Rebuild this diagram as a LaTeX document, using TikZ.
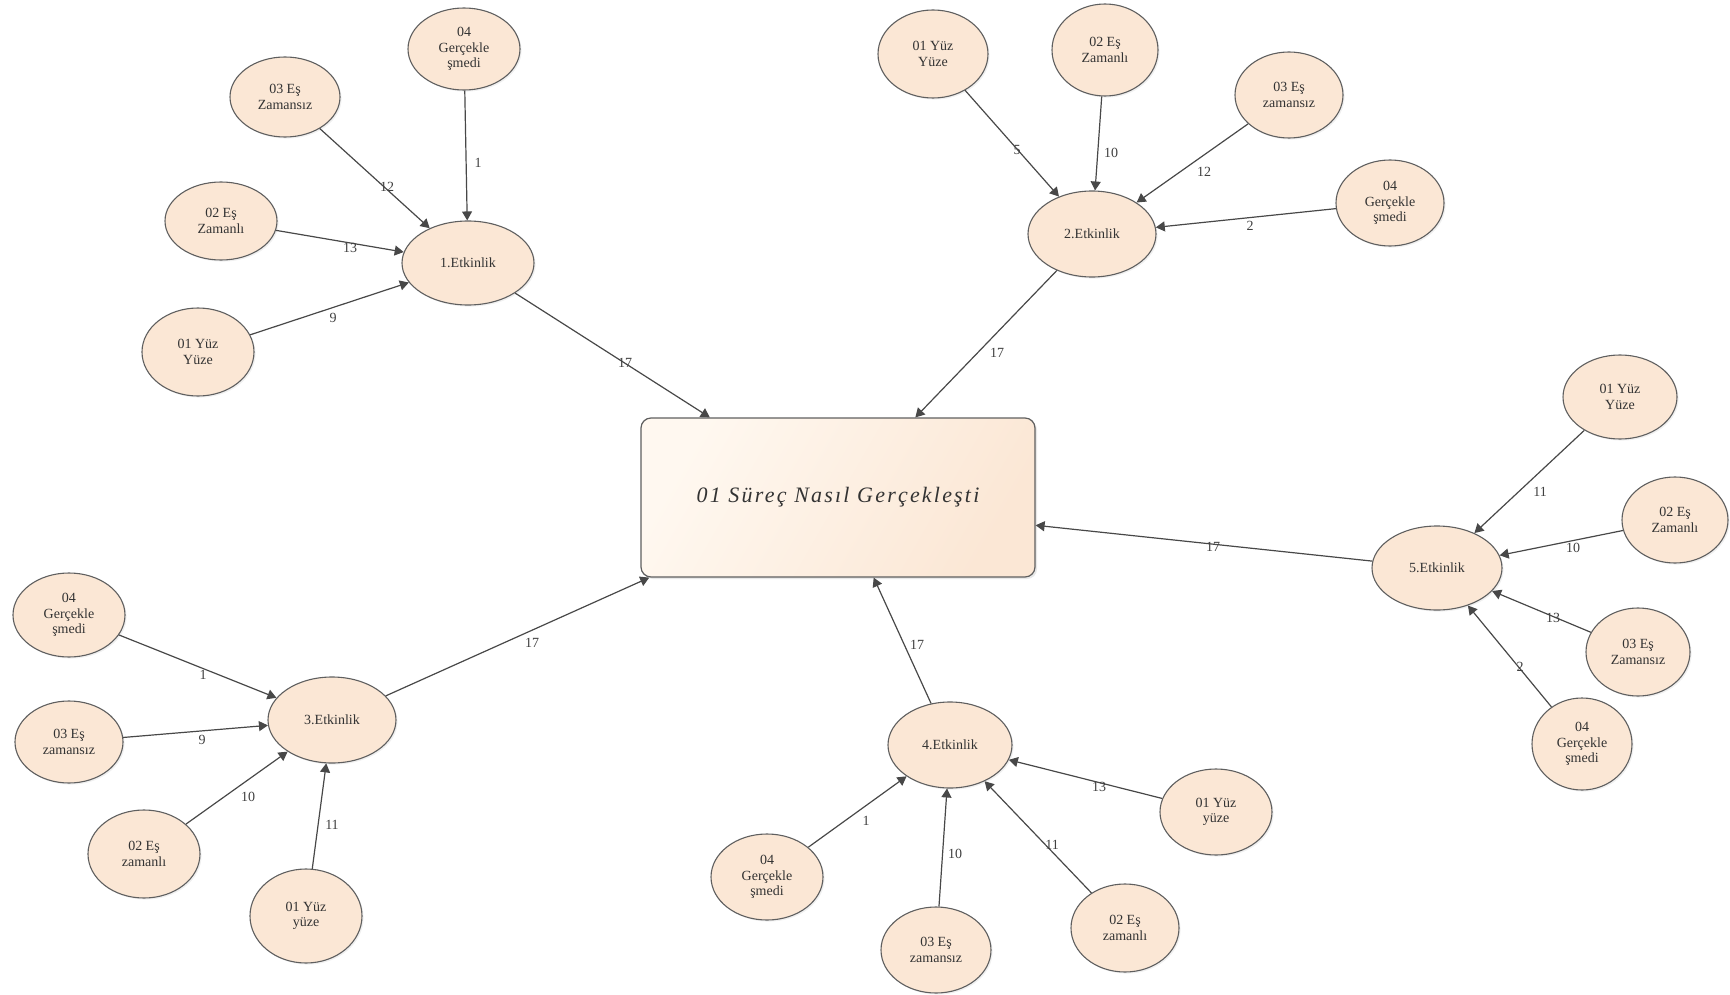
\documentclass[tikz,border=0pt]{standalone}
\usepackage{fontspec}
\setmainfont{Liberation Serif}
\usetikzlibrary{arrows.meta,shapes.geometric,shadows}

\definecolor{peach}{RGB}{251,231,213}
\definecolor{peachlight}{RGB}{255,248,240}
\definecolor{edgegray}{RGB}{72,72,72}
\definecolor{rimgray}{RGB}{95,95,95}

\tikzset{
  sz/.style 2 args={minimum width=#1*0.5pt, minimum height=#2*0.5pt},
  leaf/.style={ellipse, draw=rimgray, line width=0.55pt, fill=peach,
    inner sep=0pt, align=center, text=black!80,
    font=\fontsize{7}{7.8}\selectfont,
    drop shadow={opacity=0.12, shadow xshift=0.8pt, shadow yshift=-0.8pt}},
  act/.style={leaf},
  mainbox/.style={rectangle, rounded corners=5pt, draw=rimgray, line width=0.6pt,
    left color=peachlight, right color=peach, shading angle=60,
    minimum width=197pt, minimum height=79.5pt, text=black!80,
    font=\fontsize{11}{13}\selectfont\itshape\addfontfeatures{LetterSpace=10},
    drop shadow={opacity=0.18, shadow xshift=1pt, shadow yshift=-1pt}},
  link/.style={-{Triangle[length=4.5pt,width=5pt]}, draw=edgegray, line width=0.6pt},
  num/.style={font=\fontsize{7}{8}\selectfont, text=black!75, inner sep=0.5pt}
}

\begin{document}
\begin{tikzpicture}[x=0.5pt, y=-0.5pt]
\useasboundingbox (0,0) rectangle (1730,995);

% central process box
\node[mainbox] (box) at (838,497.5) {01 Süreç Nasıl Gerçekleşti};

% activity 1 and its modes
\node[act, sz={132}{84}] (e1) at (468,263) {1.Etkinlik};
\node[leaf, sz={112}{82}] (e1d) at (464,49) {04\\Gerçekle\\şmedi};
\node[leaf, sz={110}{80}] (e1c) at (285,97) {03 Eş\\Zamansız};
\node[leaf, sz={112}{78}] (e1b) at (221,221) {02 Eş\\Zamanlı};
\node[leaf, sz={112}{88}] (e1a) at (198,352) {01 Yüz\\Yüze};

% activity 2 and its modes
\node[act, sz={128}{86}] (e2) at (1092,234) {2.Etkinlik};
\node[leaf, sz={110}{88}] (e2a) at (933,54) {01 Yüz\\Yüze};
\node[leaf, sz={106}{92}] (e2b) at (1105,50) {02 Eş\\Zamanlı};
\node[leaf, sz={108}{86}] (e2c) at (1289,95) {03 Eş\\zamansız};
\node[leaf, sz={108}{86}] (e2d) at (1390,203) {04\\Gerçekle\\şmedi};

% activity 5 and its modes
\node[act, sz={130}{84}] (e5) at (1437,568) {5.Etkinlik};
\node[leaf, sz={114}{84}] (e5a) at (1620,397) {01 Yüz\\Yüze};
\node[leaf, sz={106}{86}] (e5b) at (1675,520) {02 Eş\\Zamanlı};
\node[leaf, sz={104}{88}] (e5c) at (1638,652) {03 Eş\\Zamansız};
\node[leaf, sz={100}{92}] (e5d) at (1582,744) {04\\Gerçekle\\şmedi};

% activity 3 and its modes
\node[act, sz={128}{86}] (e3) at (332,720) {3.Etkinlik};
\node[leaf, sz={112}{84}] (e3d) at (69,615) {04\\Gerçekle\\şmedi};
\node[leaf, sz={108}{82}] (e3c) at (69,742) {03 Eş\\zamansız};
\node[leaf, sz={112}{88}] (e3b) at (144,854) {02 Eş\\zamanlı};
\node[leaf, sz={112}{94}] (e3a) at (306,916) {01 Yüz\\yüze};

% activity 4 and its modes
\node[act, sz={124}{86}] (e4) at (950,745) {4.Etkinlik};
\node[leaf, sz={112}{86}] (e4a) at (1216,812) {01 Yüz\\yüze};
\node[leaf, sz={108}{88}] (e4b) at (1125,928) {02 Eş\\zamanlı};
\node[leaf, sz={110}{86}] (e4c) at (936,950) {03 Eş\\zamansız};
\node[leaf, sz={112}{86}] (e4d) at (767,877) {04\\Gerçekle\\şmedi};

% connectors: modes -> activities
\draw[link] (e1d) -- (e1);
\draw[link] (e1c) -- (e1);
\draw[link] (e1b) -- (e1);
\draw[link] (e1a) -- (e1);

\draw[link] (e2a) -- (e2);
\draw[link] (e2b) -- (e2);
\draw[link] (e2c) -- (e2);
\draw[link] (e2d) -- (e2);

\draw[link] (e5a) -- (e5);
\draw[link] (e5b) -- (e5);
\draw[link] (e5c) -- (e5);
\draw[link] (e5d) -- (e5);

\draw[link] (e3d) -- (e3);
\draw[link] (e3c) -- (e3);
\draw[link] (e3b) -- (e3);
\draw[link] (e3a) -- (e3);

\draw[link] (e4d) -- (e4);
\draw[link] (e4c) -- (e4);
\draw[link] (e4b) -- (e4);
\draw[link] (e4a) -- (e4);

% connectors: activities -> process box
\draw[link] (e1) -- (box.148);
\draw[link] (e2) -- (box.46.5);
\draw[link] (e5) -- (box.352.8);
\draw[link] (e3) -- (box.203.2);
\draw[link] (e4) -- (box.294.8);

% connector weights
\node[num] (w1d) at (478,163) {1};
\node[num] (w1c) at (387,187) {12};
\node[num] (w1b) at (350,248) {13};
\node[num] (w1a) at (333,318) {9};
\node[num] (w1) at (625,363) {17};

\node[num] (w2a) at (1017,150) {5};
\node[num] (w2b) at (1111,153) {10};
\node[num] (w2c) at (1204,172) {12};
\node[num] (w2d) at (1250,226) {2};
\node[num] (w2) at (997,353) {17};

\node[num] (w5a) at (1540,492) {11};
\node[num] (w5b) at (1573,548) {10};
\node[num] (w5c) at (1553,618) {13};
\node[num] (w5d) at (1520,667) {2};
\node[num] (w5) at (1213,547) {17};

\node[num] (w3d) at (203,675) {1};
\node[num] (w3c) at (202,740) {9};
\node[num] (w3b) at (248,797) {10};
\node[num] (w3a) at (332,825) {11};
\node[num] (w3) at (532,643) {17};

\node[num] (w4d) at (866,821) {1};
\node[num] (w4c) at (955,854) {10};
\node[num] (w4b) at (1052,845) {11};
\node[num] (w4a) at (1099,787) {13};
\node[num] (w4) at (917,645) {17};
\end{tikzpicture}
\end{document}
